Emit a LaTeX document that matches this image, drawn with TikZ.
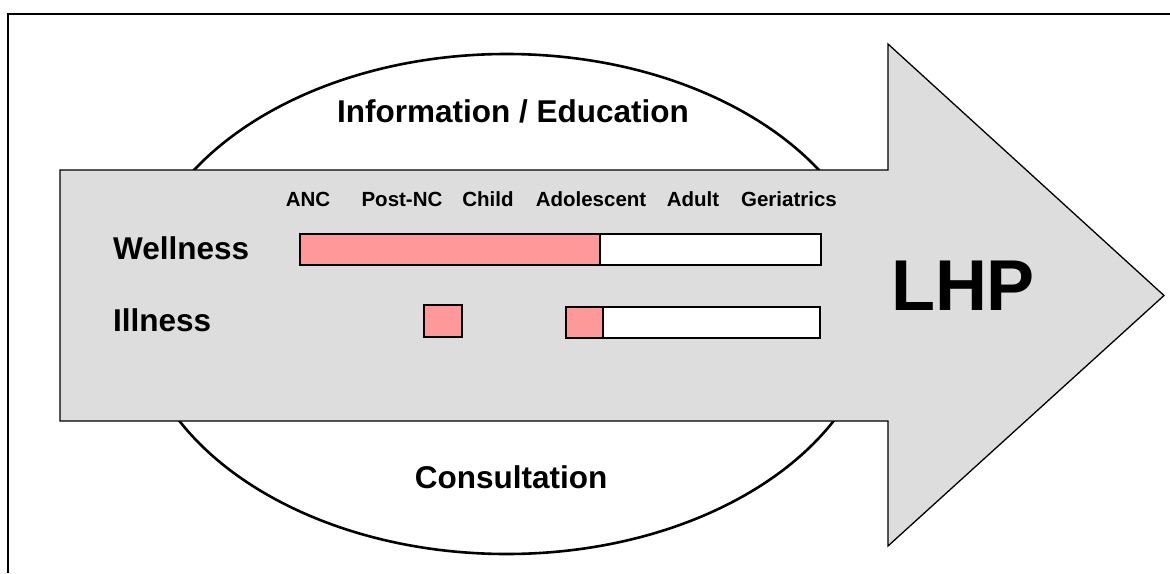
\documentclass[tikz,border=0pt]{standalone}
\usepackage{fontspec}
\setmainfont{Liberation Sans}
\definecolor{lhpgray}{HTML}{DDDDDD}
\definecolor{barpink}{HTML}{FF9999}
\tikzset{
	biglabel/.style={font=\fontsize{31.5}{36}\selectfont\bfseries, inner sep=0pt},
	agelabel/.style={font=\fontsize{20.5}{24}\selectfont\bfseries, inner sep=0pt, anchor=base},
	bar/.style={draw, line width=1.6pt}
}
\begin{document}
\begin{tikzpicture}[x=1pt, y=-1pt]
			\useasboundingbox (0,0) rectangle (1170,573);
			\draw [line width=1.8pt] (8,573) -- (8,14) -- (1170,14);
			% ring of services behind the arrow
			\draw [line width=2.6pt, fill=white] (506.5,304) ellipse [x radius=370, y radius=250];
			\node (info) [biglabel, anchor=base] at (513,122) {Information / Education};
			\node (consult) [biglabel, anchor=base] at (511,488) {Consultation};
			% the arrow
			\draw [fill=lhpgray, line width=1.3pt] (60,170) -- (888,170) -- (888,44) -- (1164,295.5) -- (888,546) -- (888,421) -- (60,421) -- cycle;
			\node (lhp) [font=\fontsize{72}{80}\selectfont\bfseries, inner sep=0pt, anchor=base] at (963,310) {LHP};
			% age groups
			\node (anc) [agelabel] at (308,206.5) {ANC};
			\node (postnc) [agelabel] at (402,206.5) {Post-NC};
			\node (child) [agelabel] at (488,206.5) {Child};
			\node (adolescent) [agelabel] at (591,206.5) {Adolescent};
			\node (adult) [agelabel] at (693,206.5) {Adult};
			\node (geriatrics) [agelabel] at (789,206.5) {Geriatrics};
			% rows
			\node (wellness) [biglabel, anchor=base west] at (113,259.5) {Wellness};
			\node (illness) [biglabel, anchor=base west] at (113,331.5) {Illness};
			\draw [bar, fill=white] (300,234) rectangle (821,265);
			\draw [bar, fill=barpink] (300,234) rectangle (600,265);
			\draw [bar, fill=barpink] (424,305) rectangle (462,337);
			\draw [bar, fill=white] (566,307) rectangle (820,338);
			\draw [bar, fill=barpink] (566,307) rectangle (603,338);
		\end{tikzpicture}
\end{document}
